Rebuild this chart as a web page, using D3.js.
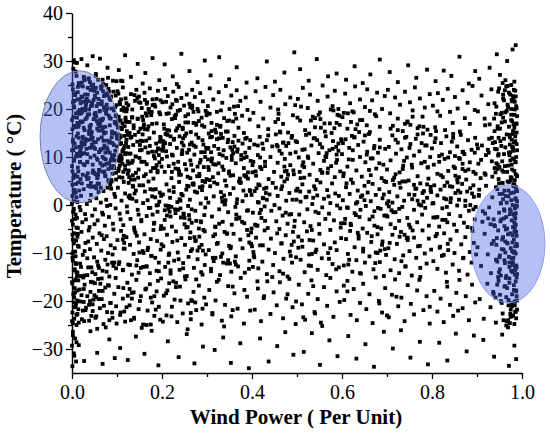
<!DOCTYPE html>
<html>
<head>
<meta charset="utf-8">
<script src="https://cdn.jsdelivr.net/npm/d3@7"></script>
<style>
  body { margin: 0; background: #fff; }
  svg { display: block; }
</style>
</head>
<body>
<svg id="chart" width="550" height="435"></svg>
<script>
// [wind power (p.u.), temperature (°C)], strip by strip

// wind power 0.0 - 0.1
const band0 = [
[.004,30.2],[.011,29.6],[.021,30.4],[.034,29.1],[.046,31.0],[.062,30.5],[.008,27.8],[.027,26.4],[.053,27.3],[.079,28.6],[.091,25.9],[.015,25.4],[.068,26.1],
[.002,24.1],[.006,21.7],[.003,18.3],[.009,16.2],[.013,23.5],[.017,19.8],[.021,22.6],[.024,17.4],[.028,15.6],[.031,20.9],[.035,24.4],[.038,18.9],[.042,16.7],[.045,21.3],[.049,23.8],[.052,19.2],[.056,15.9],[.059,22.1],[.063,17.8],[.066,24.7],[.071,20.4],[.074,16.3],[.078,23.2],[.082,18.6],[.085,21.9],[.089,15.3],[.093,19.7],[.097,22.8],[.001,15.8],[.005,20.3],[.012,17.1],[.016,24.9],[.019,21.2],[.026,16.1],[.029,23.0],[.033,18.2],[.037,21.6],[.041,24.0],[.044,15.2],[.048,17.9],[.051,22.4],[.055,20.6],[.058,16.9],[.061,19.5],[.065,21.0],[.069,18.0],[.073,22.9],[.076,19.0],[.081,24.2],[.084,16.6],[.088,20.1],[.092,23.6],[.095,17.3],[.099,20.8],[.007,22.9],[.014,19.4],[.023,20.0],[.039,16.4],[.054,18.5],[.067,15.5],
[.002,13.6],[.004,9.2],[.007,6.1],[.003,11.4],[.010,14.3],[.013,7.8],[.016,12.1],[.019,5.4],[.022,10.6],[.025,13.9],[.028,8.3],[.032,11.7],[.035,6.6],[.038,14.8],[.041,9.9],[.044,12.6],[.047,7.2],[.050,10.3],[.053,13.1],[.057,5.8],[.060,11.0],[.063,8.7],[.066,14.1],[.069,6.9],[.072,12.4],[.075,9.5],[.078,13.4],[.081,7.5],[.084,10.9],[.087,5.2],[.090,12.9],[.093,8.1],[.096,11.3],[.099,14.6],[.001,7.0],[.006,12.8],[.009,10.1],[.012,5.9],[.015,14.0],[.018,8.9],[.021,12.3],[.024,6.3],[.027,10.8],[.030,13.3],[.034,9.0],[.037,5.6],[.040,11.9],[.043,14.4],[.046,8.4],[.049,12.0],[.052,6.4],[.055,9.7],[.058,13.7],[.061,7.3],[.064,11.6],[.068,10.0],[.071,14.9],[.074,6.0],[.077,8.6],[.080,11.1],[.083,13.0],[.086,9.3],[.089,7.7],[.094,10.4],[.098,6.7],
[.001,4.2],[.003,-1.3],[.005,0.8],[.002,-4.1],[.008,2.6],[.011,-2.7],[.014,4.7],[.017,-0.4],[.020,1.9],[.023,-3.6],[.026,3.3],[.029,-1.9],[.033,0.2],[.036,4.0],[.039,-4.6],[.042,2.1],[.045,-2.2],[.048,3.8],[.051,-0.9],[.054,1.4],[.057,-3.2],[.060,4.4],[.064,0.5],[.067,-1.6],[.070,2.9],[.073,-4.3],[.076,1.1],[.079,3.6],[.082,-2.5],[.085,0.0],[.088,4.9],[.091,-3.9],[.094,2.3],[.097,-0.7],[.004,3.1],[.007,-2.9],[.010,1.6],[.013,-4.8],[.016,3.0],[.019,-1.1],[.022,4.5],[.031,-3.0],[.040,0.9],[.050,-4.0],[.059,2.7],[.069,-2.0],[.078,-0.2],[.087,3.4],[.096,1.7],[.000,0.3],
[.001,-6.2],[.003,-9.8],[.006,-13.4],[.002,-11.6],[.009,-7.4],[.012,-14.1],[.015,-8.7],[.018,-12.2],[.021,-5.6],[.024,-10.4],[.027,-14.7],[.030,-7.9],[.034,-11.1],[.037,-5.3],[.040,-9.2],[.043,-13.0],[.046,-6.8],[.049,-10.9],[.052,-14.4],[.055,-8.1],[.058,-12.6],[.061,-5.9],[.065,-9.5],[.068,-13.7],[.071,-7.1],[.074,-11.4],[.077,-6.5],[.080,-10.0],[.083,-14.9],[.086,-8.4],[.089,-12.0],[.092,-5.1],[.095,-9.0],[.098,-13.2],[.004,-8.0],[.008,-10.7],[.013,-6.0],[.020,-12.9],[.028,-9.6],[.036,-7.6],[.045,-14.0],[.056,-11.8],[.066,-6.3],[.079,-12.4],[.090,-10.3],
[.001,-16.4],[.004,-21.3],[.002,-24.6],[.007,-18.2],[.010,-22.9],[.014,-15.7],[.018,-20.1],[.022,-23.8],[.026,-17.5],[.030,-21.9],[.034,-19.0],[.038,-24.1],[.042,-16.0],[.046,-20.7],[.050,-18.8],[.054,-23.2],[.058,-15.4],[.062,-21.5],[.066,-19.6],[.070,-24.8],[.074,-17.2],[.078,-22.3],[.082,-16.8],[.086,-20.4],[.090,-23.5],[.094,-18.5],[.098,-21.1],[.005,-19.3],[.012,-17.8],[.024,-22.0],[.040,-20.0],[.060,-17.9],
[.002,-27.1],[.005,-31.4],[.001,-33.6],[.015,-29.2],[.027,-32.5],[.041,-26.3],[.056,-30.8],[.068,-33.1],[.083,-28.0],[.095,-31.9]
];

// wind power 0.1 - 0.2
const band1 = [
[.104,28.1],[.118,31.2],[.131,26.7],[.146,29.4],[.163,27.5],[.179,30.6],[.194,26.0],[.112,25.8],[.157,25.3],
[.101,23.7],[.104,18.4],[.107,21.0],[.110,16.1],[.113,24.5],[.116,19.6],[.119,22.2],[.122,15.4],[.125,20.8],[.128,17.3],[.131,23.1],[.134,19.9],[.137,16.6],[.140,21.7],[.143,24.0],[.146,18.0],[.149,22.6],[.152,15.9],[.155,20.2],[.158,17.7],[.161,23.4],[.164,19.1],[.167,21.4],[.170,16.4],[.173,24.3],[.176,18.7],[.179,22.0],[.182,15.1],[.185,20.5],[.188,17.0],[.191,23.8],[.194,19.3],[.197,21.8],[.108,17.6],[.139,22.9],[.171,20.0],
[.100,12.2],[.103,7.1],[.106,14.5],[.109,9.4],[.112,5.7],[.115,11.8],[.118,8.2],[.121,13.6],[.124,6.5],[.127,10.7],[.130,14.0],[.133,8.8],[.136,12.5],[.139,5.3],[.142,10.1],[.145,13.2],[.148,7.4],[.151,11.4],[.154,9.0],[.157,14.7],[.160,6.0],[.163,12.0],[.166,8.5],[.169,10.9],[.172,13.9],[.175,7.0],[.178,11.1],[.181,5.5],[.184,9.7],[.187,12.8],[.190,6.8],[.193,10.4],[.196,14.2],[.199,8.0],[.105,10.0],[.120,12.9],[.135,6.2],[.150,9.8],[.165,13.4],[.180,7.7],[.195,11.6],[.126,8.6],
[.102,3.6],[.106,-1.8],[.110,0.9],[.114,-4.2],[.118,2.4],[.122,-0.3],[.126,4.6],[.130,-2.9],[.134,1.3],[.138,-4.7],[.142,3.0],[.146,-1.0],[.150,4.1],[.154,-3.4],[.158,0.4],[.162,2.8],[.166,-2.3],[.170,4.9],[.174,-0.6],[.178,1.8],[.182,-3.9],[.186,3.3],[.190,-1.4],[.194,0.7],[.198,-4.4],[.108,-3.0],[.128,2.0],[.148,-2.0],[.168,1.0],[.188,-0.1],
[.101,-7.3],[.105,-11.9],[.109,-5.4],[.113,-13.6],[.117,-9.1],[.121,-6.7],[.125,-12.4],[.129,-8.3],[.133,-14.5],[.137,-10.2],[.141,-5.8],[.145,-11.5],[.149,-7.8],[.153,-13.1],[.157,-9.6],[.161,-6.1],[.165,-12.8],[.169,-8.9],[.173,-14.2],[.177,-10.6],[.181,-5.2],[.185,-11.0],[.189,-7.5],[.193,-13.8],[.197,-9.3],[.115,-6.4],[.159,-10.0],
[.103,-17.1],[.108,-22.4],[.113,-19.5],[.118,-24.3],[.123,-16.2],[.128,-20.9],[.133,-18.3],[.138,-23.5],[.143,-15.6],[.148,-21.7],[.153,-19.0],[.158,-24.9],[.163,-17.6],[.168,-22.0],[.173,-16.5],[.178,-20.3],[.183,-23.1],[.188,-18.0],[.193,-21.2],[.198,-15.3],[.131,-24.0],
[.107,-29.8],[.124,-32.3],[.142,-27.4],[.161,-31.0],[.177,-26.2],[.192,-33.4]
];

// wind power 0.2 - 0.3
const band2 = [
[.206,29.3],[.224,26.8],[.243,31.5],[.261,27.9],[.279,25.6],[.295,30.1],[.233,25.2],
[.201,21.4],[.204,16.8],[.207,24.2],[.210,19.0],[.213,22.7],[.216,15.5],[.219,20.3],[.222,17.9],[.225,23.6],[.228,18.5],[.231,21.9],[.234,16.0],[.237,24.6],[.240,19.8],[.243,22.3],[.246,15.8],[.249,20.7],[.252,17.2],[.255,23.0],[.258,18.9],[.261,21.1],[.264,15.2],[.267,24.0],[.270,19.4],[.273,22.5],[.276,16.7],[.279,20.0],[.282,17.5],[.285,23.3],[.288,18.2],[.291,21.6],[.294,16.3],[.297,19.6],
[.200,9.6],[.203,13.3],[.206,6.9],[.209,11.2],[.212,14.6],[.215,8.1],[.218,12.7],[.221,5.6],[.224,10.3],[.227,13.8],[.230,7.6],[.233,11.9],[.236,9.0],[.239,14.3],[.242,6.3],[.245,10.8],[.248,12.4],[.251,8.5],[.254,14.9],[.257,5.9],[.260,11.5],[.263,9.3],[.266,13.0],[.269,7.2],[.272,10.5],[.275,12.1],[.278,6.0],[.281,14.0],[.284,8.8],[.287,11.0],[.290,13.5],[.293,7.9],[.296,10.0],[.299,5.4],[.211,10.1],[.238,7.0],[.262,12.6],[.286,9.4],[.247,13.9],
[.202,2.2],[.206,-3.1],[.210,4.3],[.214,-0.8],[.218,1.5],[.222,-4.5],[.226,3.7],[.230,-1.7],[.234,0.6],[.238,4.8],[.242,-2.6],[.246,2.0],[.250,-4.0],[.254,3.2],[.258,-0.2],[.262,1.1],[.266,-3.7],[.270,4.5],[.274,-1.2],[.278,2.6],[.282,-4.9],[.286,0.3],[.290,3.9],[.294,-2.1],[.298,1.4],[.216,3.0],[.236,-1.0],[.256,4.0],[.276,-3.3],[.296,-0.5],
[.203,-8.6],[.207,-12.9],[.211,-6.2],[.215,-10.4],[.219,-14.3],[.223,-7.7],[.227,-11.6],[.231,-5.5],[.235,-9.9],[.239,-13.5],[.243,-6.9],[.247,-12.1],[.251,-8.3],[.255,-14.8],[.259,-10.8],[.263,-5.7],[.267,-9.2],[.271,-13.1],[.275,-7.4],[.279,-11.3],[.283,-6.6],[.287,-14.0],[.291,-9.5],[.295,-12.5],
[.204,-18.9],[.210,-23.0],[.216,-16.3],[.222,-21.2],[.228,-19.7],[.234,-24.4],[.240,-17.0],[.246,-22.6],[.252,-15.5],[.258,-20.5],[.264,-23.8],[.270,-18.1],[.276,-21.9],[.282,-16.8],[.288,-24.9],[.294,-19.3],[.225,-15.9],[.267,-20.0],
[.213,-28.4],[.237,-31.7],[.255,-26.9],[.272,-33.0],[.291,-29.5]
];

// wind power 0.3 - 0.4
const band3 = [
[.308,27.0],[.327,30.8],[.349,26.2],[.366,28.7],[.388,25.5],
[.302,20.6],[.306,24.3],[.310,17.1],[.314,22.0],[.318,15.7],[.322,19.4],[.326,23.5],[.330,16.5],[.334,21.3],[.338,18.1],[.342,24.8],[.346,15.3],[.350,20.0],[.354,22.8],[.358,17.4],[.362,19.0],[.366,23.9],[.370,16.1],[.374,21.7],[.378,18.6],[.382,15.0],[.386,22.4],[.390,19.8],[.395,17.8],
[.301,11.7],[.304,7.3],[.307,14.1],[.310,9.1],[.313,5.8],[.316,12.3],[.319,8.4],[.322,13.7],[.325,6.6],[.328,10.6],[.331,14.8],[.334,8.0],[.337,11.4],[.340,5.1],[.343,9.8],[.346,13.1],[.349,7.0],[.352,12.0],[.355,10.2],[.358,6.2],[.361,14.4],[.364,8.7],[.367,11.1],[.370,13.4],[.373,5.5],[.376,9.5],[.379,12.8],[.382,7.7],[.385,10.9],[.388,14.0],[.391,6.8],[.394,11.9],[.397,9.2],
[.303,0.5],[.307,3.9],[.311,-2.4],[.315,1.8],[.319,-4.6],[.323,4.4],[.327,-0.9],[.331,2.7],[.335,-3.5],[.339,0.1],[.343,4.0],[.347,-1.5],[.351,2.3],[.355,-4.1],[.359,3.5],[.363,-0.4],[.367,1.2],[.371,-2.8],[.375,4.7],[.379,0.8],[.383,-3.8],[.387,2.0],[.391,-1.1],[.395,3.1],[.399,-4.9],[.333,1.5],[.365,-2.0],
[.304,-9.4],[.309,-13.3],[.314,-6.5],[.319,-11.0],[.324,-7.9],[.329,-14.6],[.334,-10.1],[.339,-5.6],[.344,-12.2],[.349,-8.5],[.354,-13.9],[.359,-6.0],[.364,-10.7],[.369,-12.8],[.374,-7.2],[.379,-9.0],[.384,-14.1],[.389,-5.2],[.394,-11.6],[.398,-8.1],[.336,-12.0],
[.305,-17.7],[.312,-22.5],[.319,-19.9],[.326,-15.6],[.333,-24.1],[.340,-20.8],[.347,-16.9],[.354,-23.2],[.361,-18.4],[.368,-21.6],[.375,-15.2],[.382,-24.7],[.389,-19.1],[.396,-22.0],[.357,-17.0],
[.317,-30.2],[.336,-27.6],[.353,-32.9],[.374,-28.8],[.393,-34.0]
];

// wind power 0.4 - 0.5
const band4 = [
[.412,26.4],[.433,29.9],[.451,25.7],[.472,27.6],[.494,31.8],
[.403,19.2],[.408,23.7],[.414,16.4],[.419,21.5],[.425,18.0],[.430,24.6],[.436,15.8],[.441,20.3],[.447,22.9],[.452,17.3],[.458,19.9],[.463,24.0],[.469,16.9],[.474,21.0],[.480,15.1],[.485,22.4],[.491,18.7],[.496,20.8],
[.401,8.3],[.405,12.6],[.409,6.1],[.413,10.4],[.417,14.2],[.421,7.5],[.425,11.7],[.429,9.0],[.433,13.5],[.437,5.4],[.441,10.0],[.445,12.2],[.449,6.9],[.453,14.7],[.457,8.8],[.461,11.3],[.465,5.9],[.469,13.0],[.473,9.6],[.477,7.1],[.481,12.9],[.485,10.7],[.489,14.4],[.493,6.4],[.497,11.0],
[.402,-1.6],[.406,2.9],[.410,-4.3],[.413,0.6],[.417,4.1],[.421,-2.7],[.424,1.4],[.428,-0.3],[.432,3.6],[.435,-4.8],[.439,2.2],[.443,-1.2],[.446,4.6],[.450,0.0],[.454,-3.4],[.457,1.9],[.461,-0.7],[.465,3.3],[.468,-2.2],[.472,4.9],[.476,0.9],[.479,-3.9],[.483,2.5],[.487,-1.9],[.490,1.1],[.494,-4.5],[.498,3.0],
[.404,-10.5],[.409,-6.8],[.414,-13.2],[.418,-8.4],[.423,-11.8],[.428,-5.3],[.433,-14.4],[.437,-9.3],[.442,-7.0],[.447,-12.5],[.451,-10.0],[.456,-5.9],[.461,-13.8],[.465,-8.0],[.470,-11.2],[.475,-6.3],[.479,-14.9],[.484,-9.7],[.489,-12.0],[.493,-7.6],[.498,-10.9],
[.406,-21.8],[.413,-17.4],[.420,-24.2],[.427,-19.0],[.434,-15.9],[.441,-22.7],[.448,-18.2],[.455,-20.9],[.462,-16.1],[.469,-23.6],[.476,-19.5],[.483,-15.4],[.490,-21.3],[.497,-24.8],
[.418,-27.8],[.437,-32.6],[.456,-29.4],[.474,-26.5],[.492,-31.2]
];

// wind power 0.5 - 0.6
const band5 = [
[.507,28.3],[.526,25.9],[.544,30.4],[.569,26.8],[.588,27.4],
[.502,22.1],[.507,17.6],[.513,24.4],[.518,15.6],[.524,20.2],[.529,23.0],[.535,18.4],[.540,16.2],[.546,21.7],[.551,19.3],[.557,24.9],[.562,15.3],[.568,22.6],[.573,17.0],[.579,20.6],[.584,23.8],[.590,18.8],[.595,16.7],
[.500,13.1],[.504,9.9],[.508,5.6],[.512,11.5],[.516,7.9],[.520,14.6],[.524,10.1],[.528,6.3],[.532,12.4],[.536,8.6],[.540,13.9],[.544,5.2],[.548,10.8],[.552,7.3],[.556,12.0],[.560,9.2],[.564,14.3],[.568,6.7],[.572,11.4],[.576,8.1],[.580,13.3],[.584,5.8],[.588,10.5],[.592,12.8],[.596,7.0],
[.501,3.4],[.505,-2.0],[.508,0.7],[.512,4.3],[.516,-3.6],[.519,1.6],[.523,-0.9],[.527,2.8],[.530,-4.4],[.534,0.2],[.538,3.9],[.541,-1.4],[.545,2.0],[.549,-4.0],[.552,4.7],[.556,-0.5],[.560,1.3],[.563,-2.9],[.567,3.1],[.571,-1.8],[.574,0.4],[.578,4.5],[.582,-3.2],[.585,2.4],[.589,-0.1],[.593,1.9],[.597,-4.7],
[.503,-6.6],[.508,-11.4],[.512,-8.7],[.517,-14.0],[.522,-5.5],[.527,-10.3],[.531,-12.7],[.536,-7.4],[.541,-9.8],[.546,-13.5],[.550,-6.0],[.555,-11.1],[.560,-8.2],[.565,-14.6],[.569,-10.0],[.574,-5.2],[.579,-12.3],[.584,-7.8],[.588,-9.4],[.593,-13.0],[.598,-6.9],
[.504,-16.6],[.511,-20.7],[.518,-23.9],[.525,-18.5],[.532,-15.7],[.539,-22.3],[.546,-19.6],[.553,-24.5],[.560,-17.1],[.567,-21.0],[.574,-15.2],[.581,-23.3],[.588,-18.0],[.595,-20.2],
[.515,-30.6],[.533,-26.7],[.551,-33.3],[.572,-28.2],[.590,-31.5]
];

// wind power 0.6 - 0.7
const band6 = [
[.609,26.1],[.628,28.9],[.646,25.4],[.663,27.2],[.684,30.3],
[.601,18.3],[.607,23.2],[.612,15.9],[.618,21.2],[.623,19.5],[.629,24.7],[.634,16.8],[.640,22.0],[.645,17.7],[.651,20.4],[.656,24.1],[.662,15.2],[.667,21.8],[.673,18.9],[.678,23.4],[.684,16.3],[.689,20.0],[.695,22.7],
[.600,10.6],[.604,6.6],[.608,13.7],[.612,8.0],[.616,11.9],[.620,5.3],[.624,9.4],[.628,14.1],[.632,7.2],[.636,12.5],[.640,10.0],[.644,5.9],[.648,13.2],[.652,8.9],[.656,11.1],[.660,14.8],[.664,6.2],[.668,9.7],[.672,12.3],[.676,7.6],[.680,10.9],[.684,13.6],[.688,5.6],[.692,8.4],[.696,11.7],
[.602,1.0],[.606,-3.8],[.609,3.7],[.613,-0.6],[.617,2.3],[.620,-4.2],[.624,4.6],[.628,-1.7],[.631,0.3],[.635,3.0],[.639,-2.5],[.642,1.7],[.646,-4.9],[.650,4.0],[.653,-0.2],[.657,2.6],[.661,-3.0],[.664,0.8],[.668,4.4],[.672,-1.3],[.675,2.1],[.679,-4.6],[.683,3.3],[.686,-0.8],[.690,1.4],[.694,-2.2],[.698,4.8],
[.604,-12.6],[.609,-7.1],[.613,-10.2],[.618,-5.4],[.623,-13.9],[.628,-8.8],[.632,-11.5],[.637,-6.4],[.642,-14.3],[.647,-9.1],[.651,-12.0],[.656,-5.8],[.661,-10.7],[.665,-7.7],[.670,-13.4],[.675,-9.9],[.679,-6.1],[.684,-11.9],[.689,-8.3],[.693,-14.8],[.698,-10.4],
[.605,-19.8],[.612,-15.8],[.619,-22.9],[.626,-17.5],[.633,-24.0],[.640,-20.4],[.647,-16.4],[.654,-21.7],[.661,-18.6],[.668,-24.6],[.675,-15.1],[.682,-20.0],[.689,-22.4],[.696,-17.3],
[.614,-27.3],[.632,-32.0],[.652,-29.0],[.671,-33.7],[.693,-26.4]
];

// wind power 0.7 - 0.8
const band7 = [
[.706,27.7],[.724,25.6],[.747,29.1],[.765,26.5],[.789,28.2],
[.702,24.0],[.707,19.1],[.713,16.5],[.718,22.4],[.724,18.0],[.729,20.9],[.735,15.4],[.740,23.6],[.746,17.2],[.751,21.4],[.757,19.7],[.762,24.5],[.768,16.0],[.773,22.2],[.779,18.4],[.784,20.3],[.790,15.7],[.795,23.1],
[.700,7.4],[.704,12.1],[.708,9.3],[.712,14.5],[.716,5.7],[.720,10.7],[.724,13.0],[.728,6.8],[.732,11.6],[.736,8.2],[.740,14.0],[.744,9.9],[.748,5.1],[.752,12.7],[.756,7.8],[.760,10.3],[.764,13.8],[.768,6.0],[.772,11.2],[.776,8.7],[.780,14.9],[.784,9.0],[.788,12.4],[.792,5.5],[.796,10.0],
[.701,-2.4],[.705,2.7],[.708,-4.0],[.712,0.5],[.716,4.2],[.719,-1.5],[.723,1.8],[.727,-3.3],[.730,3.6],[.734,-0.4],[.738,0.9],[.741,4.9],[.745,-2.7],[.749,2.2],[.752,-4.7],[.756,1.2],[.760,-1.0],[.763,3.4],[.767,-3.6],[.771,0.1],[.774,4.5],[.778,-2.0],[.782,2.9],[.785,-0.6],[.789,1.5],[.793,-4.3],[.797,3.8],
[.703,-9.0],[.708,-13.6],[.712,-6.2],[.717,-11.3],[.722,-8.1],[.727,-14.2],[.731,-5.6],[.736,-10.5],[.741,-12.8],[.746,-7.3],[.750,-9.6],[.755,-14.7],[.760,-6.8],[.765,-11.0],[.769,-8.6],[.774,-13.1],[.779,-5.3],[.784,-10.1],[.788,-12.2],[.793,-7.0],[.798,-9.3],
[.704,-23.4],[.711,-18.7],[.718,-15.5],[.725,-21.1],[.732,-19.3],[.739,-24.2],[.746,-16.7],[.753,-20.6],[.760,-22.8],[.767,-17.8],[.774,-15.0],[.781,-21.9],[.788,-19.0],[.795,-24.7],
[.713,-29.9],[.731,-26.1],[.752,-31.8],[.773,-28.5],[.791,-33.2]
];

// wind power 0.8 - 0.9
const band8 = [
[.808,25.8],[.826,28.0],[.843,26.9],[.861,30.9],[.882,25.3],[.896,27.9],
[.802,20.7],[.807,16.2],[.813,23.3],[.818,18.6],[.824,21.9],[.829,15.6],[.835,24.2],[.840,19.4],[.846,17.1],[.851,22.5],[.857,20.1],[.862,15.3],[.868,23.9],[.873,18.1],[.879,21.3],[.884,16.9],[.890,24.8],[.895,19.8],
[.800,11.8],[.804,8.4],[.808,13.9],[.812,6.5],[.816,10.2],[.820,12.9],[.824,5.8],[.828,9.6],[.832,14.3],[.836,7.1],[.840,11.0],[.844,13.2],[.848,8.0],[.852,6.1],[.856,12.2],[.860,9.8],[.864,14.6],[.868,7.5],[.872,10.6],[.876,5.3],[.880,13.5],[.884,8.9],[.888,11.5],[.892,6.9],[.896,14.0],
[.801,0.3],[.805,4.1],[.808,-2.6],[.812,2.0],[.816,-4.5],[.819,3.2],[.823,-0.7],[.827,1.4],[.830,-3.1],[.834,4.7],[.838,-1.9],[.841,0.6],[.845,3.8],[.849,-4.1],[.852,2.5],[.856,-0.1],[.860,1.1],[.863,-2.3],[.867,4.4],[.871,-3.7],[.874,0.9],[.878,2.8],[.882,-1.2],[.885,3.5],[.889,-4.8],[.893,1.7],[.897,-0.4],
[.803,-11.7],[.808,-6.5],[.812,-13.3],[.817,-8.9],[.822,-10.6],[.827,-5.9],[.831,-14.1],[.836,-9.4],[.841,-7.2],[.846,-12.4],[.850,-10.0],[.855,-5.4],[.860,-13.7],[.865,-8.2],[.869,-11.1],[.874,-6.7],[.879,-14.5],[.884,-9.8],[.888,-12.0],[.893,-7.9],[.898,-10.3],
[.805,-17.9],[.812,-22.2],[.819,-19.5],[.826,-24.4],[.833,-16.0],[.840,-20.8],[.847,-23.1],[.854,-18.3],[.861,-15.6],[.868,-21.5],[.875,-19.0],[.882,-24.0],[.889,-16.6],[.896,-20.3],
[.816,-28.7],[.834,-32.4],[.853,-26.8],[.877,-30.5],[.893,-27.2]
];

// wind power 0.9 - 1.0 (dense column just under 1.0)
const band9 = [
[.905,26.3],[.928,28.6],[.951,27.1],[.967,30.0],[.979,32.4],[.986,33.3],[.983,25.7],[.963,26.0],[.944,31.4],
[.902,19.5],[.910,22.8],[.918,16.6],[.925,21.0],[.932,24.1],[.938,18.0],[.943,20.5],[.947,23.6],[.951,15.9],[.955,19.2],[.958,22.2],[.962,17.4],[.965,24.7],[.968,20.9],[.971,16.3],[.974,23.0],[.976,18.8],[.978,21.6],[.980,15.4],[.982,24.0],[.984,19.9],[.986,22.6],[.987,17.0],[.988,20.2],[.985,23.8],[.981,16.8],[.977,21.9],[.989,18.5],
[.903,8.6],[.911,12.4],[.919,6.3],[.926,10.9],[.933,14.0],[.939,7.7],[.944,11.6],[.948,5.4],[.952,13.3],[.956,9.1],[.959,6.9],[.963,12.0],[.966,14.7],[.969,8.2],[.972,10.4],[.975,5.8],[.977,13.6],[.979,9.7],[.981,11.3],[.983,7.1],[.985,14.3],[.987,10.0],[.988,12.7],[.989,6.0],[.986,8.9],[.984,5.2],[.982,13.0],[.980,11.9],[.978,7.4],[.973,14.1],[.960,10.6],[.946,8.4],[.935,12.9],
[.904,2.1],[.912,-3.5],[.920,4.0],[.927,-0.5],[.934,1.6],[.940,-4.4],[.945,3.3],[.949,-1.6],[.953,0.4],[.957,4.6],[.960,-2.8],[.964,1.9],[.967,-4.9],[.970,3.0],[.973,-0.9],[.975,2.5],[.977,-3.2],[.979,0.0],[.981,4.3],[.983,-1.9],[.985,1.2],[.986,-4.1],[.987,3.7],[.988,-0.3],[.989,2.9],[.984,-2.4],[.982,3.9],[.980,-4.6],[.976,1.0],[.971,4.8],[.961,-1.2],[.950,2.3],[.937,-3.0],
[.901,-8.8],[.909,-12.7],[.917,-6.0],[.924,-10.3],[.931,-14.2],[.937,-7.5],[.942,-11.4],[.947,-5.3],[.951,-13.4],[.955,-9.2],[.958,-6.7],[.962,-12.1],[.965,-14.8],[.968,-8.0],[.971,-10.8],[.974,-5.9],[.976,-13.7],[.978,-9.6],[.980,-11.9],[.982,-7.2],[.984,-14.5],[.986,-10.1],[.987,-12.6],[.988,-6.4],[.989,-8.5],[.985,-13.0],[.983,-5.6],[.981,-11.0],[.979,-7.8],[.972,-12.9],[.963,-9.9],[.949,-14.0],[.933,-8.1],
[.906,-19.6],[.915,-23.7],[.923,-16.4],[.930,-21.3],[.936,-18.1],[.942,-24.5],[.948,-15.8],[.953,-20.0],[.957,-22.6],[.961,-17.0],[.965,-19.2],[.969,-24.0],[.972,-15.3],[.975,-21.8],[.978,-18.6],[.980,-23.1],[.982,-16.7],[.984,-20.9],[.986,-22.2],[.987,-17.8],[.988,-15.1],[.989,-19.9],[.983,-24.8],[.977,-20.4],
[.914,-28.1],[.938,-31.6],[.956,-27.0],[.971,-33.5],[.983,-29.3],[.987,-32.1]
];

// the column of points sitting on the zero-wind axis
const leftColumn = [
[.003,28.4],[.010,26.9],[.001,25.1],[.007,23.3],[.012,22.0],[.004,20.6],[.009,19.1],[.000,17.7],[.006,16.5],[.013,14.9],[.002,13.2],[.008,12.0],[.011,10.7],[.005,9.5],[.000,8.1],[.014,7.0],[.003,5.6],[.009,4.4],[.006,3.1],[.001,1.9],[.012,0.6],[.004,-0.8],[.008,-2.0],[.000,-3.3],[.010,-4.7],[.005,-5.9],[.002,-7.2],[.013,-8.5],[.007,-9.7],[.001,-11.0],[.009,-12.3],[.004,-13.6],[.011,-14.8],[.000,-16.1],[.006,-17.3],[.003,-18.6],[.012,-19.9],[.008,-21.2],[.001,-22.4],[.005,-23.7],[.010,-25.0],[.002,-26.4],[.007,-27.8],[.000,-29.3],[.004,-30.9],[.009,-32.6],[.006,29.7],[.002,21.4],[.011,18.2],[.000,11.4],[.007,6.3],[.003,-1.5],[.012,-6.6],[.001,-10.1],[.008,-15.5],[.004,-20.3],[.000,-24.2],[.010,-28.6],[.005,2.5],[.013,24.6]
];

// heavy cluster at low wind, mild temperature
const leftDense = [
[.047,24.3],[.083,8.7],[.021,17.2],[.109,12.9],[.066,21.6],[.034,5.4],[.095,15.0],[.058,26.1],[.018,10.2],[.121,19.5],
[.029,13.8],[.071,22.7],[.114,6.9],[.052,18.4],[.088,9.6],[.016,25.3],[.102,16.1],[.041,3.8],[.077,20.9],[.063,11.5],
[.092,7.8],[.038,19.9],[.056,23.4],[.124,14.6],[.019,11.0],[.081,4.9],[.045,21.3],[.067,17.7],[.107,9.1],[.026,26.7],
[.061,16.6],[.015,10.5],[.099,25.8],[.074,6.2],[.033,22.1],[.117,12.3],[.050,18.9],[.086,8.0],[.024,14.2],[.043,24.9],
[.079,20.1],[.054,3.5],[.020,11.9],[.112,17.0],[.037,26.4],[.094,9.3],[.068,15.7],[.031,21.8],[.105,5.8],[.048,13.0],
[.035,23.0],[.089,14.9],[.060,7.3],[.017,19.2],[.120,10.8],[.076,25.0],[.042,4.6],[.101,16.9],[.027,12.7],[.084,18.1],
[.110,9.9],[.023,22.5],[.070,13.4],[.049,6.7],[.096,20.4],[.039,15.3],[.064,24.6],[.018,11.2],[.087,5.1],[.055,17.5],
[.044,12.1],[.098,18.7],[.028,26.0],[.073,8.4],[.116,14.4],[.058,21.1],[.032,6.0],[.091,10.0],[.014,16.3],[.069,23.7],
[.085,4.2],[.040,16.0],[.062,19.6],[.022,25.5],[.104,7.6],[.051,11.7],[.078,22.9],[.036,13.6],[.119,18.2],[.057,9.4],
[.025,21.5],[.081,5.2],[.046,14.0],[.108,10.4],[.065,24.2],[.030,17.9],[.093,12.5],[.053,26.9],[.072,7.0],[.016,19.0],
[.059,15.5],[.103,23.2],[.034,8.9],[.076,19.4],[.021,13.1],[.090,6.5],[.047,25.1],[.113,11.4],[.066,21.0],[.039,4.0],
[.097,18.5],[.027,12.8],[.083,22.3],[.052,3.9],[.015,16.7],[.071,9.7],[.122,20.0],[.043,24.0],[.088,14.1],[.060,7.1],
[.037,26.2],[.074,10.9],[.019,17.4],[.100,13.9],[.056,5.6],[.082,23.6],[.029,19.7],[.067,8.2],[.111,15.8],[.048,21.9],
[.070,11.8],[.045,20.7],[.094,7.7],[.024,24.7],[.063,16.4],[.115,4.8],[.033,13.5],[.086,18.0],[.051,22.8],[.018,9.0],
[.102,14.7],[.058,6.4],[.031,21.2],[.077,12.0],[.040,25.6],[.095,17.1],[.064,3.6],[.022,19.3],[.089,10.3],[.050,23.9],
[.026,8.5],[.068,16.2],[.109,25.9],[.042,20.6],[.084,13.3],[.017,22.0],[.061,11.1],[.098,5.3],[.035,18.8],[.075,15.1],
[.053,24.4],[.091,9.8],[.038,15.4],[.118,7.4],[.072,19.8],[.028,12.6],[.080,26.5],[.046,6.8],[.106,21.4],[.063,17.3],
[.020,19.1],[.087,22.6],[.057,4.5],[.034,10.6],[.099,16.8],[.069,25.2],[.044,13.7],[.112,8.6],[.079,11.6],[.030,20.3]
];

// main body of the cloud, wind 0.1 - 0.45
const coreDense = [
[.132,14.2],[.287,-3.6],[.215,19.1],[.401,6.8],[.168,-9.4],[.356,11.5],[.243,2.3],[.119,17.8],[.318,-6.1],[.194,8.9],
[.263,20.4],[.147,5.7],[.389,-1.2],[.226,13.6],[.104,9.3],[.331,-10.8],[.178,16.9],[.427,3.4],[.254,-4.7],[.309,11.0],
[.185,1.6],[.342,15.3],[.121,21.2],[.274,-7.5],[.418,7.9],[.203,12.7],[.365,-2.9],[.156,18.4],[.296,4.8],[.237,-11.3],
[.311,9.7],[.139,-5.3],[.258,17.2],[.396,2.9],[.173,12.3],[.221,-0.4],[.352,6.1],[.110,19.8],[.283,-8.8],[.436,14.5],
[.248,-1.9],[.376,10.4],[.126,7.2],[.299,18.7],[.193,-12.0],[.414,4.3],[.162,15.8],[.327,-3.9],[.209,21.5],[.143,0.8],
[.357,13.1],[.117,16.4],[.272,-6.7],[.188,8.3],[.433,1.1],[.235,19.6],[.150,-9.9],[.303,11.9],[.391,5.5],[.219,-2.4],
[.164,6.4],[.322,-8.1],[.208,14.8],[.109,22.0],[.381,3.0],[.266,-0.9],[.141,10.1],[.345,17.5],[.197,-5.0],[.292,12.6],
[.229,18.1],[.412,-4.3],[.135,9.2],[.284,3.7],[.176,-10.6],[.335,14.0],[.254,7.4],[.123,-1.5],[.369,20.6],[.201,11.3],
[.340,0.2],[.183,20.9],[.271,12.4],[.113,-7.2],[.403,9.0],[.246,16.1],[.158,4.1],[.315,-11.7],[.222,6.9],[.385,13.8],
[.128,15.0],[.261,-3.0],[.195,2.6],[.358,10.8],[.146,17.9],[.424,-8.4],[.233,21.7],[.306,5.2],[.171,-0.6],[.279,8.0],
[.207,12.9],[.349,6.6],[.115,-9.1],[.289,16.6],[.241,0.9],[.172,19.3],[.398,-5.7],[.136,3.8],[.325,11.7],[.260,-2.1],
[.374,4.6],[.153,13.4],[.231,18.8],[.420,-1.0],[.186,7.7],[.297,-10.3],[.118,10.6],[.267,20.2],[.338,2.0],[.212,15.6],
[.144,-6.4],[.302,9.5],[.250,-2.7],[.166,21.1],[.387,5.9],[.219,14.3],[.129,1.4],[.353,-8.7],[.276,17.0],[.191,11.8],
[.281,19.5],[.106,8.2],[.347,13.6],[.204,-4.9],[.431,2.5],[.160,16.8],[.313,-11.0],[.238,6.3],[.125,12.1],[.366,0.4],
[.180,3.2],[.394,-7.8],[.256,10.9],[.133,18.2],[.320,15.1],[.215,-0.2],[.408,7.0],[.149,21.4],[.286,-3.4],[.244,13.0],
[.329,16.3],[.198,1.9],[.112,11.2],[.264,-9.6],[.371,4.9],[.170,20.0],[.295,-5.5],[.226,8.6],[.140,14.6],[.417,-1.7],
[.236,7.5],[.361,12.2],[.154,-3.1],[.306,19.0],[.182,10.2],[.405,-10.9],[.120,17.4],[.273,2.8],[.344,-6.0],[.205,15.9],
[.162,21.9],[.290,5.0],[.382,9.8],[.217,-1.4],[.108,14.1],[.334,0.7],[.252,18.5],[.175,-7.1],[.423,12.8],[.268,4.4],
[.318,-4.5],[.137,16.0],[.245,11.4],[.410,3.5],[.199,-8.2],[.124,9.1],[.360,20.5],[.283,6.0],[.157,13.3],[.229,-0.9],
[.388,10.0],[.211,-2.2],[.103,17.7],[.276,14.7],[.347,-11.5],[.188,22.1],[.239,1.2],[.429,8.1],[.131,5.3],[.300,19.2],
[.151,12.5],[.326,8.7],[.262,-6.9],[.119,19.9],[.399,2.1],[.183,-3.7],[.310,15.4],[.222,10.5],[.352,-9.0],[.142,6.7],
[.270,17.1],[.415,0.5],[.197,13.9],[.135,4.0],[.292,-5.2],[.368,11.6],[.110,9.6],[.248,-1.8],[.179,20.8],[.337,7.3],
[.216,-10.1],[.166,18.6],[.383,6.2],[.304,14.9],[.126,1.7],[.259,3.9],[.429,-3.3],[.187,11.1],[.322,16.7],[.234,-7.4],
[.355,9.4],[.114,20.3],[.241,-0.7],[.190,7.1],[.396,13.5],[.279,-9.5],[.148,15.2],[.316,4.7],[.203,12.0],[.407,-4.1],
[.127,5.8],[.298,11.9],[.223,21.0],[.372,-2.6],[.159,16.2],[.265,8.4],[.341,1.0],[.104,13.7],[.288,-8.3],[.196,18.9],
[.251,14.4],[.392,-6.3],[.174,3.3],[.130,10.7],[.331,19.7],[.208,-0.1],[.418,9.9],[.283,6.5],[.145,22.3],[.362,-11.8],
[.191,0.0],[.349,17.6],[.107,12.7],[.257,-4.6],[.314,8.5],[.168,15.7],[.226,2.7],[.403,-9.8],[.134,18.3],[.295,11.0],
[.303,7.9],[.152,21.3],[.378,-3.5],[.238,16.5],[.116,-7.9],[.270,4.2],[.195,13.2],[.335,10.3],[.425,1.5],[.177,19.4],
[.244,10.6],[.139,2.4],[.311,14.2],[.206,-1.1],[.386,6.0],[.123,17.3],[.345,-5.9],[.267,20.7],[.161,9.0],[.413,12.4],
[.179,-2.0],[.263,5.6],[.365,18.0],[.108,9.3],[.231,15.5],[.400,-8.6],[.155,11.5],[.289,3.1],[.214,-12.0],[.327,13.9]
];

// medium density body, wind 0.45 - 0.93
const midDense = [
[.512,8.2],[.687,-4.9],[.463,15.1],[.798,2.7],[.571,-11.2],[.902,11.8],[.634,0.6],[.745,17.4],[.528,-7.3],[.856,5.3],
[.719,13.6],[.548,-1.7],[.881,7.4],[.604,19.2],[.467,3.9],[.773,-8.5],[.655,10.5],[.925,-2.8],[.583,16.0],[.832,1.2],
[.491,-5.6],[.836,9.9],[.622,14.4],[.704,-0.3],[.556,6.7],[.917,18.0],[.679,-10.0],[.476,12.3],[.760,4.2],[.598,-3.8],
[.645,2.0],[.752,16.7],[.503,-8.9],[.869,11.1],[.587,8.8],[.698,-2.2],[.934,5.9],[.537,13.9],[.811,-6.0],[.662,19.6],
[.566,10.8],[.892,-0.9],[.728,4.6],[.458,17.9],[.614,-12.4],[.790,7.8],[.521,1.7],[.847,14.8],[.672,-4.3],[.738,9.2],
[.809,15.4],[.480,6.3],[.637,-7.0],[.905,3.2],[.551,12.7],[.714,-1.5],[.862,9.6],[.594,18.6],[.486,-10.6],[.768,0.9],
[.694,5.0],[.575,19.9],[.823,-3.1],[.517,11.6],[.746,-6.8],[.627,14.1],[.889,2.4],[.472,8.0],[.781,16.3],[.543,-9.3],
[.611,-0.5],[.874,7.1],[.497,13.3],[.732,-11.7],[.659,4.8],[.920,10.4],[.561,17.0],[.803,-2.6],[.684,12.0],[.453,3.6],
[.757,18.4],[.533,-5.2],[.842,1.4],[.589,9.4],[.708,15.9],[.466,-8.0],[.897,6.5],[.641,-1.0],[.777,12.9],[.509,20.5],
[.858,3.0],[.624,11.4],[.483,-2.0],[.797,14.6],[.569,7.6],[.741,-12.8],[.928,16.8],[.516,5.7],[.666,-6.5],[.816,9.0],
[.531,17.6],[.700,0.3],[.879,-4.6],[.603,6.0],[.455,12.5],[.765,3.4],[.647,-9.7],[.851,10.2],[.577,15.0],[.727,-0.8],
[.690,-7.6],[.470,13.0],[.615,9.5],[.913,-1.3],[.789,4.3],[.540,18.1],[.834,-3.6],[.660,7.3],[.499,1.1],[.743,14.2],
[.592,11.3],[.826,-10.4],[.724,15.6],[.507,2.8],[.868,8.6],[.635,-5.8],[.459,19.0],[.776,-0.1],[.556,6.8],[.900,12.6],
[.781,0.7],[.553,16.1],[.668,-2.4],[.895,10.9],[.488,-8.3],[.713,5.2],[.598,13.7],[.840,3.9],[.930,-4.0],[.620,17.3],
[.473,7.0],[.739,-6.2],[.587,12.1],[.812,19.5],[.680,-0.6],[.525,9.8],[.870,-11.0],[.651,14.5],[.761,2.1],[.908,5.6],
[.847,14.0],[.610,4.5],[.495,-3.3],[.755,8.4],[.640,17.7],[.918,-1.8],[.565,10.0],[.695,-9.2],[.820,6.2],[.536,1.5],
[.718,-4.8],[.579,11.7],[.885,0.0],[.462,15.3],[.791,7.9],[.674,-12.1],[.548,18.8],[.933,9.1],[.607,-2.9],[.828,4.0],
[.626,19.3],[.863,2.6],[.514,8.9],[.706,-7.9],[.599,13.4],[.833,-0.4],[.478,5.4],[.750,11.9],[.655,16.6],[.890,-5.4],
[.541,3.3],[.772,16.4],[.685,-9.5],[.917,6.6],[.466,10.7],[.631,-2.1],[.806,13.1],[.570,1.8],[.744,-6.9],[.501,18.2],
[.664,9.7],[.895,-3.0],[.527,14.9],[.803,0.4],[.616,-11.4],[.735,7.5],[.457,12.2],[.857,4.7],[.592,20.0],[.710,-1.1],
[.818,-8.7],[.506,6.9],[.693,2.2],[.588,17.1],[.924,11.5],[.749,-4.1],[.630,15.8],[.485,8.3],[.874,-0.2],[.545,13.5],
[.602,12.9],[.728,-6.6],[.860,5.8],[.475,-1.6],[.676,18.5],[.797,3.1],[.533,-10.2],[.909,9.4],[.650,1.0],[.768,14.7],
[.892,4.1],[.563,10.1],[.740,16.9],[.619,-3.9],[.492,7.2],[.835,-8.1],[.703,0.8],[.581,19.7],[.785,12.4],[.461,-5.0],
[.638,15.2],[.779,2.5],[.511,-7.4],[.868,11.0],[.719,6.4],[.596,-0.7],[.927,13.8],[.552,17.9],[.812,-2.5],[.683,8.7],
[.526,-12.6],[.851,7.7],[.671,11.8],[.757,-5.3],[.613,19.1],[.904,1.9],[.488,14.0],[.734,4.9],[.574,-9.0],[.822,10.5]
];

// lower band, temperatures between about -12 and -26
const lowBand = [
[.034,-14.6],[.121,-21.3],[.068,-17.9],[.247,-13.2],[.015,-24.5],[.183,-19.0],[.092,-12.7],[.312,-22.8],[.051,-16.3],[.155,-25.6],
[.209,-18.4],[.077,-13.9],[.138,-23.7],[.026,-20.2],[.276,-15.5],[.104,-12.3],[.046,-22.1],[.231,-17.1],[.166,-25.0],[.010,-14.0],
[.402,-12.9],[.059,-19.6],[.191,-15.8],[.357,-21.9],[.083,-24.0],[.128,-17.5],[.469,-14.3],[.021,-18.8],[.298,-20.7],[.113,-13.5],
[.536,-16.9],[.043,-23.1],[.219,-13.6],[.151,-20.0],[.612,-18.0],[.097,-15.2],[.338,-25.3],[.008,-12.1],[.264,-22.5],[.175,-19.3],
[.071,-21.0],[.445,-15.0],[.202,-24.3],[.028,-16.6],[.129,-12.5],[.683,-20.5],[.383,-17.7],[.060,-13.1],[.241,-19.9],[.514,-23.4],
[.114,-17.3],[.019,-14.8],[.290,-21.6],[.772,-15.6],[.056,-25.8],[.166,-12.8],[.426,-19.4],[.089,-22.4],[.322,-16.0],[.038,-20.8],
[.587,-13.4],[.137,-18.2],[.012,-22.7],[.251,-14.9],[.080,-16.7],[.498,-20.1],[.196,-23.9],[.364,-12.4],[.048,-19.7],[.834,-17.0],
[.175,-24.9],[.066,-15.3],[.721,-19.1],[.031,-21.4],[.309,-13.8],[.107,-22.9],[.231,-16.2],[.556,-25.2],[.004,-18.5],[.143,-12.6],
[.274,-20.3],[.094,-12.0],[.017,-17.6],[.640,-14.2],[.186,-21.8],[.052,-23.5],[.412,-15.9],[.124,-18.9],[.858,-22.0],[.036,-13.0],
[.063,-16.4],[.221,-23.2],[.148,-14.1],[.479,-18.6],[.009,-20.6],[.351,-12.2],[.099,-24.7],[.265,-19.8],[.025,-15.1],[.795,-21.2],
[.188,-13.7],[.041,-18.1],[.116,-22.2],[.604,-16.8],[.075,-25.5],[.290,-14.5],[.014,-21.7],[.165,-17.4],[.700,-23.0],[.054,-19.2],
[.133,-19.5],[.027,-24.2],[.393,-13.3],[.085,-20.4],[.212,-17.8],[.007,-15.7],[.540,-22.6],[.158,-12.9],[.046,-16.1],[.257,-25.9]
];

// dense column at nearly full wind power
const rightColumn = [
[.978,12.1],[.952,-3.4],[.987,20.6],[.964,-15.2],[.941,6.8],[.983,-9.7],[.971,23.4],[.958,1.2],[.989,-21.8],[.946,15.9],
[.969,-6.1],[.985,9.0],[.937,-18.5],[.976,17.7],[.960,-0.9],[.988,-12.9],[.949,4.5],[.981,22.1],[.966,-24.2],[.974,11.0],
[.982,2.6],[.955,-20.4],[.972,14.6],[.943,-8.3],[.986,-1.7],[.963,19.3],[.979,-14.0],[.950,7.9],[.984,-4.8],[.968,24.8],
[.988,16.9],[.961,-11.5],[.975,5.1],[.939,21.2],[.980,-23.0],[.953,0.3],[.967,-7.9],[.985,13.3],[.945,-16.6],[.977,8.4],
[.965,-2.5],[.983,18.8],[.947,10.3],[.970,-19.8],[.987,-5.6],[.957,25.4],[.979,-12.2],[.942,3.7],[.974,-22.7],[.989,6.1],
[.976,20.0],[.959,-9.3],[.986,-0.4],[.948,14.0],[.967,-17.3],[.982,9.6],[.954,-3.0],[.973,-24.6],[.940,11.7],[.984,-13.6],
[.981,4.0],[.962,23.9],[.944,-6.9],[.978,-21.1],[.988,15.1],[.951,-10.5],[.970,1.8],[.986,-15.9],[.958,18.2],[.975,-1.3],
[.956,7.2],[.987,-18.0],[.973,12.6],[.938,-4.2],[.980,22.7],[.965,-25.1],[.985,-8.6],[.946,16.4],[.977,-11.1],[.961,3.0],
[.984,-20.1],[.971,10.9],[.953,-14.7],[.989,0.8],[.966,19.6],[.943,8.7],[.982,-2.0],[.975,-9.0],[.960,13.8],[.987,-23.6],
[.972,-16.2],[.949,24.3],[.986,6.4],[.963,-7.6],[.979,-12.5],[.955,17.2],[.988,-0.1],[.968,4.9],[.984,21.5],[.941,-19.3],
[.980,14.8],[.964,-5.1],[.957,2.3],[.985,-22.3],[.974,9.3],[.947,-15.0],[.983,-3.7],[.969,20.4],[.950,-10.9],[.989,11.4],
[.988,-8.1],[.977,5.6],[.959,-24.0],[.940,13.1],[.982,-17.7],[.966,0.5],[.952,18.9],[.986,-13.3],[.973,-1.9],[.962,8.1],
[.945,-11.8],[.983,16.1],[.970,-20.9],[.987,2.9],[.958,23.0],[.979,-6.3],[.963,-16.9],[.948,10.6],[.985,-2.8],[.976,25.0],
[.967,6.9],[.989,-14.4],[.954,12.3],[.981,-9.9],[.975,-23.3],[.942,19.0],[.986,1.4],[.961,-4.4],[.978,17.5],[.951,-18.7],
[.984,-0.7],[.960,21.8],[.972,-12.0],[.946,7.5],[.988,-19.0],[.980,11.9],[.956,-7.2],[.969,-25.5],[.983,4.3],[.939,15.4]
];

const xTicks = [0, 0.2, 0.4, 0.6, 0.8, 1.0];
const xMinor = [0.1, 0.3, 0.5, 0.7, 0.9];
const yTicks = [-30, -20, -10, 0, 10, 20, 30, 40];
const yMinor = [-25, -15, -5, 5, 15, 25, 35];

// highlighted clusters: centre (wind, temp) and half-widths
const clusters = [
  { cx: 0.017, cy: 14.2, rx: 0.088, ry: 13.75, edge: "#7d84a6" },
  { cx: 0.969, cy: -8.1, rx: 0.082, ry: 12.3, edge: "#8c9cf0" }
];

const points = [].concat(band0, band1, band2, band3, band4, band5, band6, band7, band8, band9,
  leftColumn, leftDense, coreDense, midDense, lowBand, rightColumn);

const svg = d3.select("#chart");
const x = d3.scaleLinear().domain([0, 1]).range([72, 522]);
const y = d3.scaleLinear().domain([-35, 40]).range([373, 13]);
const font = "'Liberation Serif', 'Times New Roman', serif";
const s = 3.8;

svg.append("g").selectAll("rect").data(points).enter()
  .append("rect")
  .attr("x", d => x(d[0]) - s / 2)
  .attr("y", d => y(d[1]) - s / 2)
  .attr("width", s).attr("height", s)
  .attr("fill", "#000");

// minor ticks first, majors with labels on top
svg.append("g").attr("transform", "translate(0,373)")
  .call(d3.axisBottom(x).tickValues(xMinor).tickSize(4).tickSizeOuter(0).tickFormat(""))
  .call(g => g.select(".domain").remove());
svg.append("g").attr("transform", "translate(72,0)")
  .call(d3.axisLeft(y).tickValues(yMinor).tickSize(4).tickSizeOuter(0).tickFormat(""))
  .call(g => g.select(".domain").remove());

const gx = svg.append("g").attr("transform", "translate(0,373)")
  .call(d3.axisBottom(x).tickValues(xTicks).tickSize(6).tickSizeOuter(0).tickPadding(6).tickFormat(d3.format(".1f")));
const gy = svg.append("g").attr("transform", "translate(72,0)")
  .call(d3.axisLeft(y).tickValues(yTicks).tickSize(6).tickSizeOuter(0).tickPadding(3));

svg.selectAll(".tick line").attr("stroke", "#000").attr("stroke-width", 1.3);
svg.selectAll(".domain").attr("stroke", "#000").attr("stroke-width", 1.4);
[gx, gy].forEach(g => g.attr("font-family", font).attr("font-size", 20)
  .selectAll("text").attr("fill", "#000"));

svg.append("text")
  .attr("x", 296).attr("y", 424)
  .attr("text-anchor", "middle")
  .attr("font-family", font).attr("font-weight", "bold").attr("font-size", 21)
  .text("Wind Power ( Per Unit)");

svg.append("text")
  .attr("transform", "translate(21,196) rotate(-90)")
  .attr("text-anchor", "middle")
  .attr("font-family", font).attr("font-weight", "bold").attr("font-size", 21)
  .text("Temperature ( °C)");

svg.append("g").selectAll("ellipse").data(clusters).enter()
  .append("ellipse")
  .attr("cx", d => x(d.cx))
  .attr("cy", d => y(d.cy))
  .attr("rx", d => x(d.rx) - x(0))
  .attr("ry", d => y(0) - y(d.ry))
  .attr("fill", "rgb(70,100,230)").attr("fill-opacity", 0.4)
  .attr("stroke", d => d.edge).attr("stroke-width", 1);
</script>
</body>
</html>
